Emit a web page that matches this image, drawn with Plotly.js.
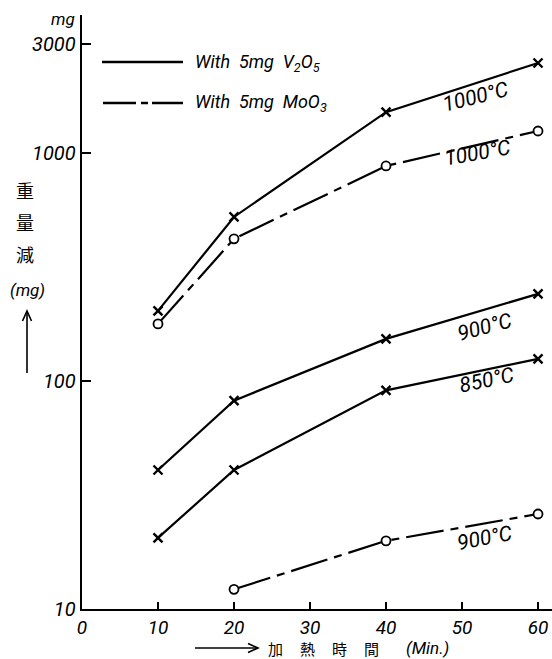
<!DOCTYPE html>
<html>
<head>
<meta charset="utf-8">
<script src="https://cdn.plot.ly/plotly-3.0.1.min.js"></script>
<style>html,body{margin:0;padding:0;background:#fff;}#chart{width:552px;height:659px;}</style>
</head>
<body>
<div id="chart"></div>
<script>
// ---- data ----
const minutes = [10, 20, 40, 60];
const minutesMoO3_900 = [20, 40, 60];
const v2o5_1000 = [203, 524, 1510, 2480];
const v2o5_900 = [40.7, 82, 153, 241];
const v2o5_850 = [20.5, 40.7, 91, 125];
const moo3_1000 = [178, 420, 877, 1248];
const moo3_900 = [12.2, 19.9, 26.1];
const xTicks = [0, 10, 20, 30, 40, 50, 60];
const yTicks = [10, 100, 1000, 3000];
const yTickText = ['10', '100', '1000', '3000'];
const legendV2O5 = 'With&nbsp;&nbsp;5mg&nbsp;&nbsp;V<sub>2</sub>O<sub>5</sub>';
const legendMoO3 = 'With&nbsp;&nbsp;5mg&nbsp;&nbsp;MoO<sub>3</sub>';
const xTitleChars = ['加', '熱', '時', '間'];

// ---- layout helpers (pixel -> paper) ----
const W = 552, H = 659, L = 82, R = 0, T = 15, B = 50;
const pw = W - L - R, ph = H - T - B;
const px = x => (x - L) / pw;
const py = y => (H - B - y) / ph;

const NUM_FONT = 'Roboto, Liberation Sans, sans-serif';
const CJK_FONT = 'Noto Sans CJK JP, Noto Sans CJK SC, sans-serif';
const DASHDOT = '38px,7px,8px,7px';

function solid(y) {
  return {
    x: minutes, y: y, type: 'scatter', mode: 'lines+markers', showlegend: false,
    line: {color: '#000', width: 2.2},
    marker: {symbol: 'x-thin-open', size: 9, line: {color: '#000', width: 2.4}, color: '#000'},
    cliponaxis: false
  };
}
function dashdot(x, y) {
  return {
    x: x, y: y, type: 'scatter', mode: 'lines+markers', showlegend: false,
    line: {color: '#000', width: 2.2, dash: DASHDOT},
    marker: {symbol: 'circle', size: 9, color: '#fff', line: {color: '#000', width: 1.8}},
    cliponaxis: false
  };
}

const data = [
  solid(v2o5_1000), solid(v2o5_900), solid(v2o5_850),
  dashdot(minutes, moo3_1000), dashdot(minutesMoO3_900, moo3_900)
];

function lbl(text, x, y, angle, size, opts) {
  return Object.assign({
    text: text, xref: 'paper', yref: 'paper', x: px(x), y: py(y),
    showarrow: false, textangle: angle || 0,
    font: {family: NUM_FONT, size: size || 20, color: '#000', style: 'italic'},
    xanchor: 'center', yanchor: 'middle'
  }, opts || {});
}
const cjk = {family: CJK_FONT, size: 18, color: '#000'};
const cjkX = {family: CJK_FONT, size: 15, color: '#000'};

const annotations = [
  lbl('1000°C', 475, 97, -14, 21),
  lbl('1000°C', 477, 153, -10, 21),
  lbl('900°C', 485, 327, -15, 21),
  lbl('850°C', 487, 380, -12, 21),
  lbl('900°C', 485, 538, -11, 21),
  lbl(legendV2O5, 193, 63, 0, 18, {xanchor: 'left'}),
  lbl(legendMoO3, 193, 103, 0, 18, {xanchor: 'left'}),
  lbl('mg', 63, 19, 0, 17),
  lbl('重', 25, 190, 0, 18, {font: cjk}),
  lbl('量', 25, 222, 0, 18, {font: cjk}),
  lbl('減', 25, 254, 0, 18, {font: cjk}),
  lbl('(mg)', 27, 290, 0, 17),
  lbl('(Min.)', 404, 648, 0, 17, {xanchor: 'left'})
].concat(xTitleChars.map((c, i) => lbl(c, 275 + i * 32, 648, 0, 15, {font: cjkX})));

function arrowShapes(x0, y0, x1, y1) {
  const dx = x1 - x0, dy = y1 - y0, len = Math.hypot(dx, dy);
  const ux = dx / len, uy = dy / len, hl = 10, hw = 4.5;
  const bx = x1 - ux * hl, by = y1 - uy * hl;
  const p1 = [bx - uy * hw, by + ux * hw], p2 = [bx + uy * hw, by - ux * hw];
  return [
    {type: 'line', xref: 'paper', yref: 'paper', x0: px(x0), y0: py(y0), x1: px(x1), y1: py(y1),
     line: {color: '#000', width: 1.6}},
    {type: 'path', xref: 'paper', yref: 'paper',
     path: `M${px(p1[0])},${py(p1[1])} L${px(x1)},${py(y1)} L${px(p2[0])},${py(p2[1])}`,
     line: {color: '#000', width: 1.6}}
  ];
}

const shapes = [
  {type: 'line', xref: 'paper', yref: 'paper', x0: px(102), x1: px(183), y0: py(62), y1: py(62),
   line: {color: '#000', width: 2.4}},
  {type: 'line', xref: 'paper', yref: 'paper', x0: px(103), x1: px(183), y0: py(103), y1: py(103),
   line: {color: '#000', width: 2.4, dash: '33px,5px,7px,4px'}}
].concat(arrowShapes(27, 373, 27, 311), arrowShapes(195, 648, 258, 648));

const layout = {
  width: W, height: H,
  margin: {l: L, r: R, t: T, b: B, pad: 0},
  paper_bgcolor: '#fff', plot_bgcolor: '#fff',
  showlegend: false,
  xaxis: {
    range: [0, 61.84], showgrid: false, zeroline: false,
    showline: true, linecolor: '#000', linewidth: 2.4,
    ticks: 'inside', ticklen: 7, tickwidth: 1.6, tickcolor: '#000',
    tickvals: xTicks, ticktext: xTicks.map(String),
    tickfont: {family: NUM_FONT, size: 19, color: '#000', style: 'italic'}
  },
  yaxis: {
    type: 'log', range: [1, 3.605], showgrid: false, zeroline: false,
    showline: true, linecolor: '#000', linewidth: 2.4,
    ticks: 'inside', ticklen: 9, tickwidth: 1.6, tickcolor: '#000',
    tickvals: yTicks, ticktext: yTickText,
    tickfont: {family: NUM_FONT, size: 20, color: '#000', style: 'italic'}
  },
  annotations: annotations,
  shapes: shapes
};

Plotly.newPlot('chart', data, layout, {displayModeBar: false, staticPlot: true});
</script>
</body>
</html>
